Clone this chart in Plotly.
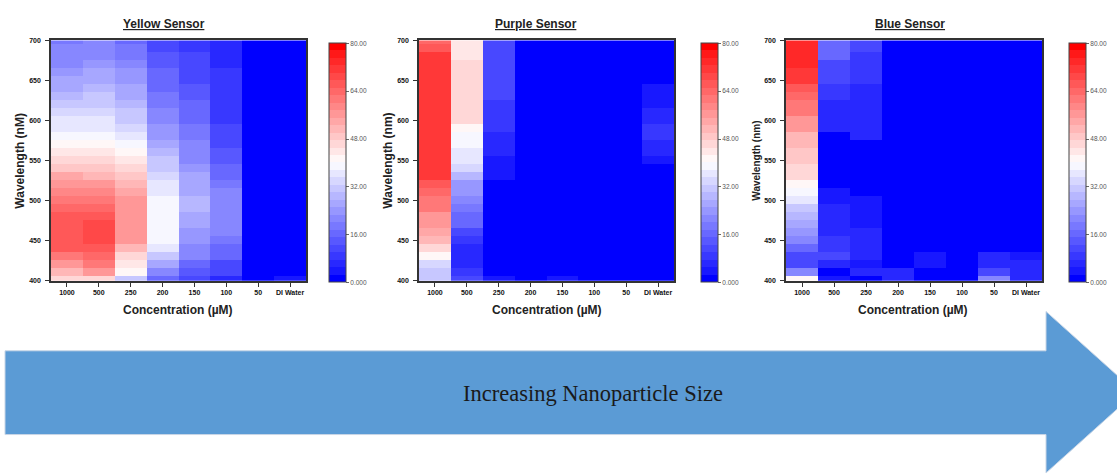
import plotly.graph_objects as go

# ---------------- data ----------------
wavelengths = list(range(700, 399, -10))  # 700 -> 400 nm (31 rows)
concentrations = ["1000", "500", "250", "200", "150", "100", "50", "DI Water"]

# Yellow sensor (values per concentration column, 700 -> 400 nm)
yellow_1000 = [19, 20, 21, 22, 24, 25, 27, 29, 31, 33, 35, 37, 38, 41, 44, 46, 49, 53, 56, 58, 61, 63, 65, 67, 67, 67, 66, 62, 57, 52, 45]
yellow_500 = [20, 20, 21, 23, 25, 26, 28, 30, 31, 33, 35, 37, 39, 40, 43, 46, 49, 52, 55, 58, 61, 63, 66, 68, 68, 68, 67, 63, 60, 55, 46]
yellow_250 = [17, 18, 19, 21, 23, 24, 25, 26, 28, 30, 32, 34, 36, 39, 41, 43, 46, 48, 51, 53, 55, 56, 57, 57, 56, 55, 51, 47, 44, 40, 30]
yellow_200 = [11, 12, 13, 14, 15, 16, 17, 18, 19, 20, 21, 23, 24, 26, 28, 30, 32, 34, 36, 37, 39, 39, 39, 39, 39, 39, 36, 32, 27, 22, 15]
yellow_150 = [9, 9, 10, 11, 11, 12, 13, 14, 15, 16, 17, 18, 19, 20, 21, 22, 23, 25, 26, 27, 28, 28, 27, 25, 24, 24, 22, 20, 17, 14, 11]
yellow_100 = [7, 7, 7, 7, 8, 8, 8, 8, 8, 8, 9, 10, 10, 11, 13, 14, 15, 17, 18, 20, 22, 22, 22, 22, 20, 19, 17, 15, 12, 10, 7]
yellow_50 = [0] * 30 + [1]
yellow_di = [0] * 30 + [4]

# Purple sensor
purple_1000 = [63, 66] + [70] * 16 + [67, 64, 62, 60, 57, 55, 53, 50, 45, 40, 33, 31, 31]
purple_500 = [44, 44, 44, 47, 47, 47, 45, 45, 45, 45, 45, 41, 38, 38, 35, 35, 33, 29, 24, 23, 21, 19, 16, 15, 10, 8, 6, 5, 5, 8, 12]
purple_250 = [12] * 8 + [9] * 4 + [6] * 3 + [3] * 3 + [0] * 6 + [2] * 4 + [0, 0, 4]
purple_200 = [0] * 30 + [1]
purple_150 = [0] * 29 + [2, 3]
purple_100 = [0] * 30 + [2]
purple_50 = [0] * 30 + [2]
purple_di = [0] * 6 + [3, 3, 4, 5, 5, 9, 9, 6, 6, 3, 2] + [0] * 13 + [2]

# Blue sensor
blue_1000 = [73, 73, 73, 73, 70, 70, 67, 64, 62, 60, 57, 55, 52, 52, 48, 48, 45, 45, 41, 38, 35, 32, 29, 27, 24, 21, 15, 12, 12, 22, 40]
blue_500 = [16, 16, 16, 12, 12, 12, 9, 9, 6, 6, 5, 5, 0, 0, 0, 0, 0, 0, 0, 4, 4, 6, 6, 6, 6, 8, 8, 10, 6, 2, 4]
blue_250 = [12, 12, 9, 9, 9, 9, 6, 6, 6, 5, 5, 5, 5, 0, 0, 0, 0, 0, 0, 0, 4, 4, 4, 4, 6, 6, 6, 6, 3, 7, 2]
blue_200 = [0] * 29 + [5, 5]
blue_150 = [0] * 27 + [3, 3, 0, 2]
blue_100 = [0] * 30 + [1]
blue_50 = [0] * 27 + [5, 7, 12, 22]
blue_di = [0] * 27 + [3, 6, 6, 6]

yellow_cols = [yellow_1000, yellow_500, yellow_250, yellow_200, yellow_150, yellow_100, yellow_50, yellow_di]
purple_cols = [purple_1000, purple_500, purple_250, purple_200, purple_150, purple_100, purple_50, purple_di]
blue_cols = [blue_1000, blue_500, blue_250, blue_200, blue_150, blue_100, blue_50, blue_di]

titles = ["Yellow Sensor", "Purple Sensor", "Blue Sensor"]
y_titles = ["Wavelength (nM)", "Wavelength (nm)", "Wavelength (nm)"]
x_title = "Concentration (\u00b5M)"
cbar_ticks = [0, 16, 32, 48, 64, 80]
cbar_text = ["0.000", "16.00", "32.00", "48.00", "64.00", "80.00"]
y_ticks = [400, 450, 500, 550, 600, 650, 700]
arrow_text = "Increasing Nanoparticle Size"

# ---------------- layout helpers ----------------
W, H = 1117, 475


def fx(p):
    return p / W


def fy(p):
    return 1 - p / H


ZMIN, ZMAX, NLEV = 0, 80, 32


def level_color(v):
    if v <= 40:
        c = round(255 * v / 40)
        return f"rgb({c},{c},255)"
    c = round(255 * (1 - (v - 40) / 40))
    return f"rgb(255,{c},{c})"


colorscale = []
step = (ZMAX - ZMIN) / NLEV
for i in range(NLEV):
    lo, hi = i * step, (i + 1) * step
    if i == 0:
        v = 0.0
    elif i == NLEV - 1:
        v = 80.0
    else:
        v = (lo + hi) / 2
    col = level_color(v)
    colorscale.append([i / NLEV, col])
    colorscale.append([(i + 1) / NLEV, col])

panels = [
    dict(cols=yellow_cols, x0=51, x1=306, cb=329, title_x=164, xt_x=178, yt_x=20, yt_size=12),
    dict(cols=purple_cols, x0=419, x1=674, cb=701, title_x=536, xt_x=547, yt_x=388, yt_size=12),
    dict(cols=blue_cols, x0=786, x1=1042, cb=1069, title_x=910, xt_x=913, yt_x=757, yt_size=10),
]

PLOT_TOP, PLOT_BOT = 37, 281
FONT = "Liberation Sans, Arial, sans-serif"

fig = go.Figure()
layout = dict(
    width=W, height=H,
    margin=dict(l=0, r=0, t=0, b=0),
    paper_bgcolor="white", plot_bgcolor="white",
    showlegend=False,
    annotations=[], shapes=[],
)

for k, p in enumerate(panels):
    # z rows = wavelengths, columns = concentrations
    z = [[p["cols"][j][i] for j in range(len(concentrations))] for i in range(len(wavelengths))]
    sfx = "" if k == 0 else str(k + 1)
    fig.add_trace(go.Heatmap(
        x=concentrations, y=wavelengths, z=z,
        xaxis="x" + sfx, yaxis="y" + sfx,
        zmin=ZMIN, zmax=ZMAX, colorscale=colorscale,
        hoverinfo="skip",
        colorbar=dict(
            x=fx(p["cb"]), xanchor="left",
            y=fy(40), yanchor="top",
            len=239, lenmode="pixels",
            thickness=17, thicknessmode="pixels",
            outlinewidth=1, outlinecolor="#444",
            xpad=0, ypad=0,
            tickvals=cbar_ticks, ticktext=cbar_text,
            ticks="outside", ticklen=3, tickcolor="#666",
            tickfont=dict(family=FONT, size=6.5, color="#555"),
        ),
    ))
    layout["xaxis" + sfx] = dict(
        domain=[fx(p["x0"]), fx(p["x1"])], anchor="y" + sfx,
        type="category", range=[-0.5, 7.5],
        showline=True, mirror=True, linecolor="#333", linewidth=1.5,
        ticks="outside", ticklen=4, tickcolor="#333",
        tickfont=dict(family=FONT, size=7, color="#111", weight="bold"),
        showgrid=False, zeroline=False, tickangle=0, fixedrange=True,
    )
    layout["yaxis" + sfx] = dict(
        domain=[fy(PLOT_BOT), fy(PLOT_TOP)], anchor="x" + sfx,
        range=[400, 700], tickvals=y_ticks,
        showline=True, mirror=True, linecolor="#333", linewidth=1.5,
        ticks="outside", ticklen=4, tickcolor="#333", ticklabelstandoff=3,
        tickfont=dict(family=FONT, size=7, color="#111", weight="bold"),
        showgrid=False, zeroline=False, fixedrange=True,
    )
    layout["annotations"] += [
        dict(text=f"<u>{titles[k]}</u>", x=fx(p["title_x"]), y=fy(20),
             xref="paper", yref="paper", showarrow=False, xanchor="center", yanchor="middle",
             font=dict(family=FONT, size=12, color="#222", weight="bold")),
        dict(text=x_title, x=fx(p["xt_x"]), y=fy(311),
             xref="paper", yref="paper", showarrow=False, xanchor="center", yanchor="middle",
             font=dict(family=FONT, size=12, color="#222", weight="bold")),
        dict(text=y_titles[k], x=fx(p["yt_x"]), y=fy(159), textangle=-90,
             xref="paper", yref="paper", showarrow=False, xanchor="center", yanchor="middle",
             font=dict(family=FONT, size=p["yt_size"], color="#222", weight="bold")),
    ]

# Big arrow below the panels
pts = [(5, 352), (1046, 352), (1046, 312), (1136, 394), (1046, 476), (1046, 437), (5, 437)]
path = "M " + " L ".join(f"{fx(a):.5f},{fy(b):.5f}" for a, b in pts) + " Z"
layout["shapes"].append(dict(type="path", path=path, xref="paper", yref="paper",
                             fillcolor="#5B9BD5", line=dict(color="#c9d6e6", width=1), layer="above"))
layout["annotations"].append(dict(
    text=arrow_text, x=fx(593), y=fy(395), xref="paper", yref="paper",
    showarrow=False, xanchor="center", yanchor="middle",
    font=dict(family="Liberation Serif, Times New Roman, serif", size=22.5, color="#1a1a1a"),
))

fig.update_layout(**layout)
fig.write_html("out.html")
